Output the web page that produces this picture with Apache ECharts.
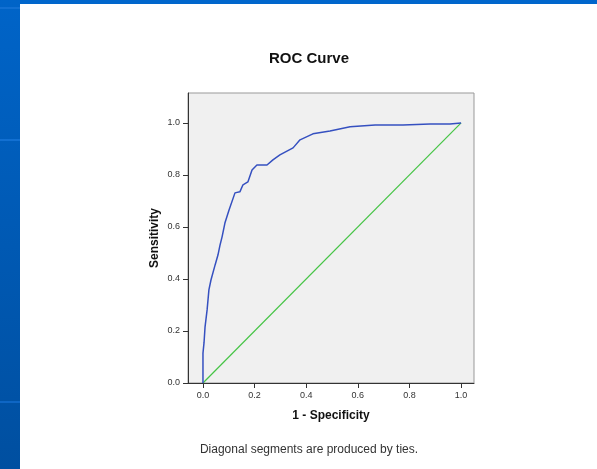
<!DOCTYPE html>
<html>
<head>
<meta charset="utf-8">
<script src="https://cdn.jsdelivr.net/npm/echarts@6/dist/echarts.min.js"></script>
<style>
  html, body { margin: 0; padding: 0; background: #fff; }
  #chart { width: 597px; height: 469px; }
</style>
</head>
<body>
<div id="chart"></div>
<script>
// ROC curve
const fpr = [0, 0, 0.004, 0.008, 0.016, 0.023, 0.031, 0.047, 0.058, 0.066, 0.074, 0.085, 0.101, 0.124, 0.143, 0.155, 0.174, 0.19, 0.209, 0.248, 0.271, 0.298, 0.349, 0.376, 0.426, 0.492, 0.57, 0.667, 0.775, 0.88, 0.957, 1.0]
const tpr = [0, 0.115, 0.154, 0.215, 0.281, 0.358, 0.396, 0.454, 0.492, 0.53, 0.562, 0.615, 0.665, 0.731, 0.735, 0.762, 0.773, 0.819, 0.838, 0.838, 0.858, 0.877, 0.904, 0.935, 0.958, 0.969, 0.985, 0.992, 0.992, 0.996, 0.996, 1.0]
const refX = [0, 1]
const refY = [0, 1]
const ticks = [0, 0.2, 0.4, 0.6, 0.8, 1.0]

const chart = echarts.init(document.getElementById('chart'))

const axisCommon = {
  type: 'value',
  nameLocation: 'middle',
  nameTextStyle: { fontFamily: 'Liberation Sans', fontWeight: 'bold', fontSize: 12, color: '#111' },
  axisLine: { show: true, onZero: false, lineStyle: { color: '#333', width: 1 } },
  axisTick: { show: true, inside: false, length: 5, customValues: ticks, lineStyle: { color: '#333' } },
  axisLabel: {
    customValues: ticks,
    fontFamily: 'Liberation Sans', fontSize: 9, color: '#333', margin: 8,
    formatter: v => v.toFixed(1)
  },
  splitLine: { show: false }
}

chart.setOption({
  backgroundColor: '#fff',
  animation: false,
  graphic: [
    { type: 'rect', shape: { x: 0, y: 0, width: 597, height: 4 }, style: { fill: '#0066cc' }, z: 100 },
    {
      type: 'rect', shape: { x: 0, y: 0, width: 20, height: 469 }, z: 100,
      style: {
        fill: new echarts.graphic.LinearGradient(0, 0, 0, 1, [
          { offset: 0, color: '#0064c8' },
          { offset: 1, color: '#004fa0' }
        ])
      }
    },
    { type: 'rect', shape: { x: 0, y: 7, width: 20, height: 2 }, style: { fill: '#1270d2' }, z: 101 },
    { type: 'rect', shape: { x: 0, y: 139, width: 20, height: 2 }, style: { fill: '#1270d2' }, z: 101 },
    { type: 'rect', shape: { x: 0, y: 401, width: 20, height: 2 }, style: { fill: '#0e66c4' }, z: 101 }
  ],
  title: [
    {
      text: 'ROC Curve', left: 304, top: 46, textAlign: 'center',
      textStyle: { fontFamily: 'Liberation Sans', fontWeight: 'bold', fontSize: 15, color: '#111' }
    },
    {
      text: 'Diagonal segments are produced by ties.', left: 304, top: 439, textAlign: 'center',
      textStyle: { fontFamily: 'Liberation Sans', fontWeight: 'normal', fontSize: 12, color: '#333' }
    }
  ],
  grid: {
    left: 188, top: 93, right: 123, bottom: 86,
    show: true, backgroundColor: '#f0f0f0', borderColor: '#999', borderWidth: 1
  },
  xAxis: Object.assign({}, axisCommon, {
    min: -0.058, max: 1.05,
    name: '1 - Specificity', nameGap: 27
  }),
  yAxis: Object.assign({}, axisCommon, {
    min: 0, max: 1.115,
    name: 'Sensitivity', nameGap: 27
  }),
  series: [
    {
      type: 'line',
      data: refX.map((x, i) => [x, refY[i]]),
      symbol: 'none',
      lineStyle: { color: '#45c445', width: 1.2 },
      z: 2
    },
    {
      type: 'line',
      data: fpr.map((x, i) => [x, tpr[i]]),
      symbol: 'none',
      lineStyle: { color: '#3550c0', width: 1.5 },
      z: 3
    }
  ]
})
</script>
</body>
</html>
